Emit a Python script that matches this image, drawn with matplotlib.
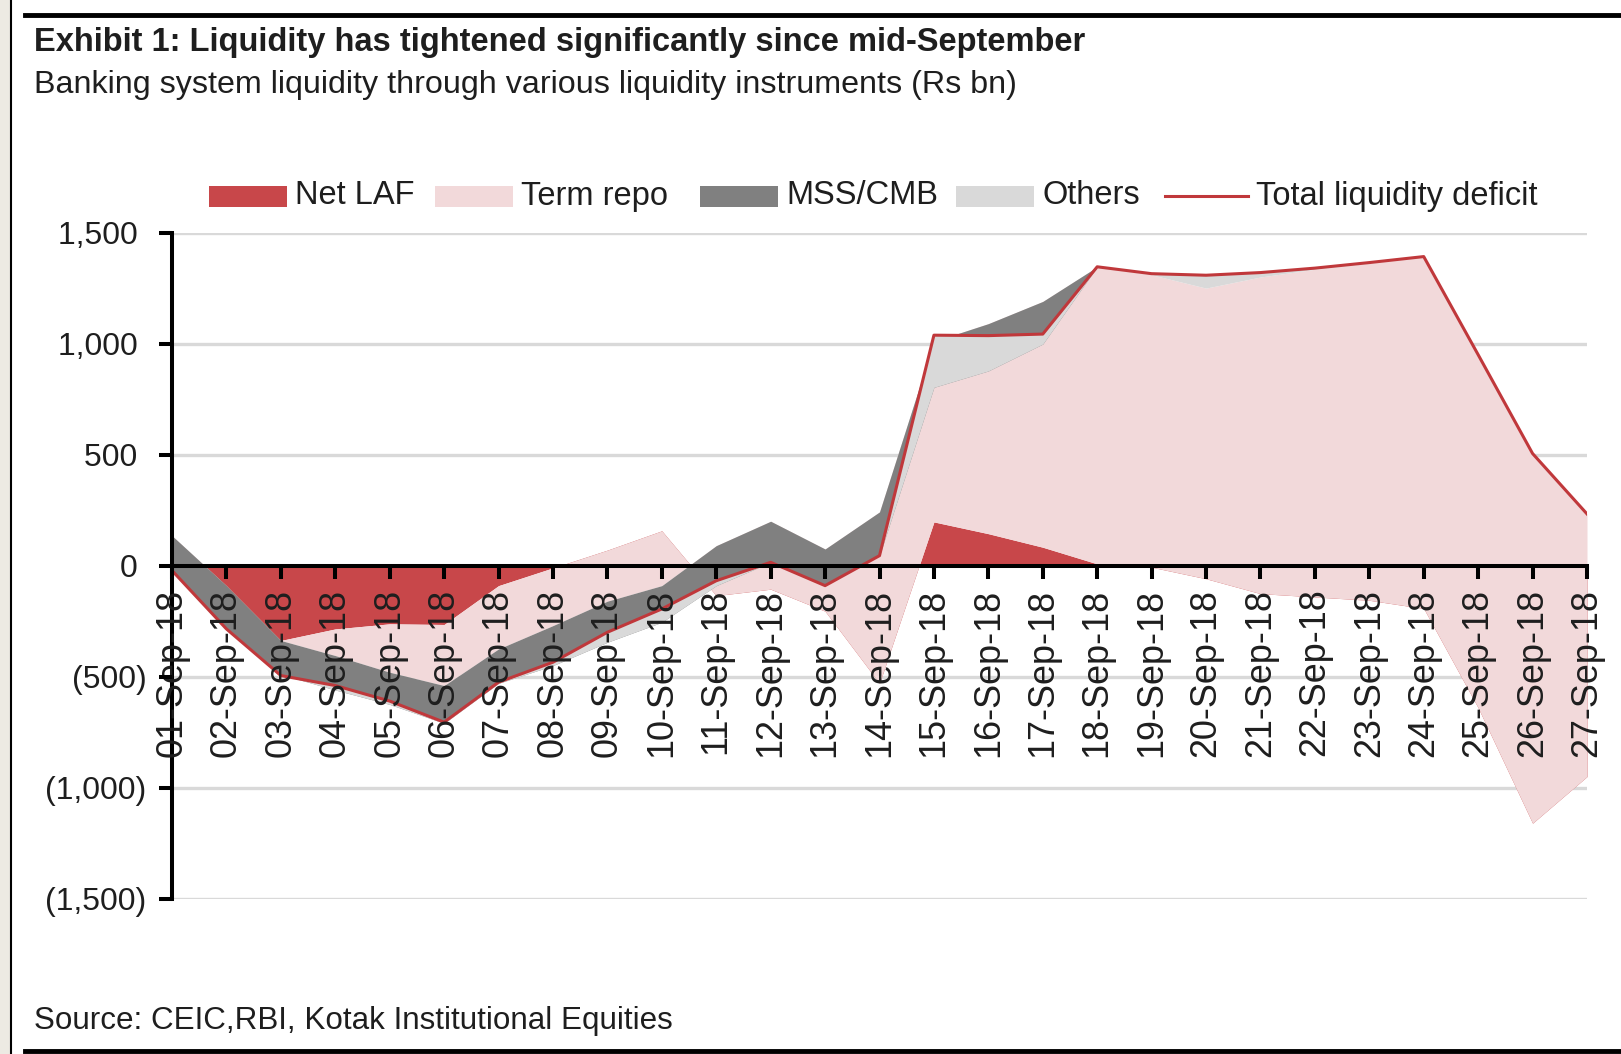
import numpy as np
import matplotlib
matplotlib.use("Agg")
import matplotlib.pyplot as plt
from matplotlib.patches import Rectangle
from matplotlib.lines import Line2D
from matplotlib.ticker import FuncFormatter, MultipleLocator

plt.rcParams['font.family'] = ['Liberation Sans', 'DejaVu Sans']

# Banking system liquidity, Rs bn
dates = ["%02d-Sep-18" % d for d in range(1, 28)]
net_laf = [-20, -120, -337, -285, -262, -265, -90, -10, 70, 157, -135, -106, -205, -530,
           197, 144, 83, 8, -7, -59, -126, -141, -156, -193, -640, -1160, -950]
term_repo = [155, 30, 0, -120, -218, -275, -285, -260, -230, -247, 225, 306, 280, 772,
             813, 946, 1107, 1338, 1317, 1309, 1426, 1476, 1518, 1585, 1590, 1665, 1183]
mss_cmb = [-157, -190, -153, -155, -145, -170, -155, -180, -185, -165, -180, -185, -165, -197,
           -207, -213, -192, 0, 0, 0, 0, 0, 0, 0, 0, 0, 0]
others = [0, -5, -5, 20, 15, 5, 5, 15, 45, 60, 22, 0, 0, 0,
          235, 159, 45, 0, 5, 58, 20, 5, 3, 0, 0, 0, 0]

series_names = ["Net LAF", "Term repo", "MSS/CMB", "Others"]
series_colors = ["#C8474A", "#F2D9DA", "#808080", "#D9D9D9"]
line_color = "#C0383B"
text_color = "#1E1E1E"

W, H = 1621, 1054
fig = plt.figure(figsize=(W / 100, H / 100), dpi=100)
fig.patch.set_facecolor("#EDEAE3")
renderer = fig.canvas.get_renderer()


def fx(px):
    return px / W


def fy(py):
    return 1 - py / H


def fit_width(t, width_px):
    # scale a text so that it spans the same width as in the exhibit
    w = t.get_window_extent(renderer).width
    t.set_fontsize(t.get_fontsize() * width_px / w)
    return t.get_fontsize()


# page frame
fig.patches.append(Rectangle((fx(11), fy(1070)), fx(1640), 1.2, transform=fig.transFigure,
                             facecolor="white", edgecolor="black", lw=1.5, zorder=-5))
fig.lines.append(Line2D([fx(25), 1], [fy(15), fy(15)], transform=fig.transFigure,
                        color="black", lw=3.5, zorder=-4))
fig.lines.append(Line2D([fx(25), 1], [fy(1051), fy(1051)], transform=fig.transFigure,
                        color="black", lw=3.5, zorder=-4))

ax = fig.add_axes([fx(172), fy(898.7), fx(1587) - fx(172), fy(232.6) - fy(898.7)])
ax.set_facecolor("none")

x = np.arange(len(dates))
stack = np.vstack([net_laf, term_repo, mss_cmb, others]).astype(float)
cum = np.vstack([np.zeros(len(dates)), np.cumsum(stack, axis=0)])
total = cum[-1]

for v in [-1500, -1000, -500, 500, 1000, 1500]:
    ax.axhline(v, color="#D9D9D9", lw=2.4, zorder=0.5)

for k in range(4):
    ax.fill_between(x, cum[k], cum[k + 1], color=series_colors[k], lw=0, zorder=1 + k * 0.1)
ax.plot(x, total, color=line_color, lw=2.2, zorder=3)

ax.set_xlim(0, len(dates) - 1)
ax.set_ylim(-1500, 1500)
ax.yaxis.set_major_locator(MultipleLocator(500))


def fmt(v, pos):
    if v < 0:
        return "({:,.0f})".format(-v)
    return "{:,.0f} ".format(v)


# work out tick label sizes from their widths in the exhibit
probe = fig.text(0, 0, dates[0], fontsize=20)
xlab_size = fit_width(probe, 168)
probe.set_text("1,500")
probe.set_fontsize(20)
ylab_size = fit_width(probe, 80)
probe.remove()

for s in ["top", "right"]:
    ax.spines[s].set_visible(False)
ax.spines["bottom"].set_position(("data", 0))
for s in ["left", "bottom"]:
    ax.spines[s].set_linewidth(2.9)
    ax.spines[s].set_zorder(6)
ax.tick_params(axis="both", direction="out", length=9.5, width=2.9, colors="black",
               labelcolor=text_color)
ax.tick_params(axis="x", labelsize=xlab_size, pad=7, labelrotation=90)
ax.tick_params(axis="y", labelsize=ylab_size, pad=9)
ax.xaxis.set_zorder(7)
ax.yaxis.set_zorder(7)

ax.yaxis.set_major_formatter(FuncFormatter(fmt))
ax.set_xticks(x)
ax.set_xticklabels(dates)
for lab in ax.get_xticklabels():
    lab.set_rotation(90)
    lab.set_va("top")
    lab.set_ha("center")

# titles
t = fig.text(fx(34), fy(43), "Exhibit 1: Liquidity has tightened significantly since mid-September",
             fontsize=20, fontweight="bold", color=text_color, va="center", ha="left")
fit_width(t, 1049)
t = fig.text(fx(34), fy(85), "Banking system liquidity through various liquidity instruments (Rs bn)",
             fontsize=20, color=text_color, va="center", ha="left")
fit_width(t, 982)
t = fig.text(fx(34), fy(1021), "Source: CEIC,RBI, Kotak Institutional Equities",
             fontsize=20, color=text_color, va="center", ha="left")
fit_width(t, 636)

# legend drawn by hand to follow the exhibit layout
leg_y = 196
t = fig.text(fx(1256), fy(leg_y), "Total liquidity deficit", fontsize=20, color=text_color,
             va="center", ha="left")
leg_size = fit_width(t, 281)
patch_x = [209, 435, 700, 956]
for px0, name, col in zip(patch_x, series_names, series_colors):
    fig.patches.append(Rectangle((fx(px0), fy(leg_y + 10.5)), fx(78), 21 / H,
                                 transform=fig.transFigure, facecolor=col, lw=0))
    fig.text(fx(px0 + 86), fy(leg_y), name, fontsize=leg_size, color=text_color,
             va="center", ha="left")
fig.lines.append(Line2D([fx(1165), fx(1248)], [fy(leg_y), fy(leg_y)],
                        transform=fig.transFigure, color=line_color, lw=2.2))

fig.savefig("out.png", dpi=100, facecolor=fig.get_facecolor())
